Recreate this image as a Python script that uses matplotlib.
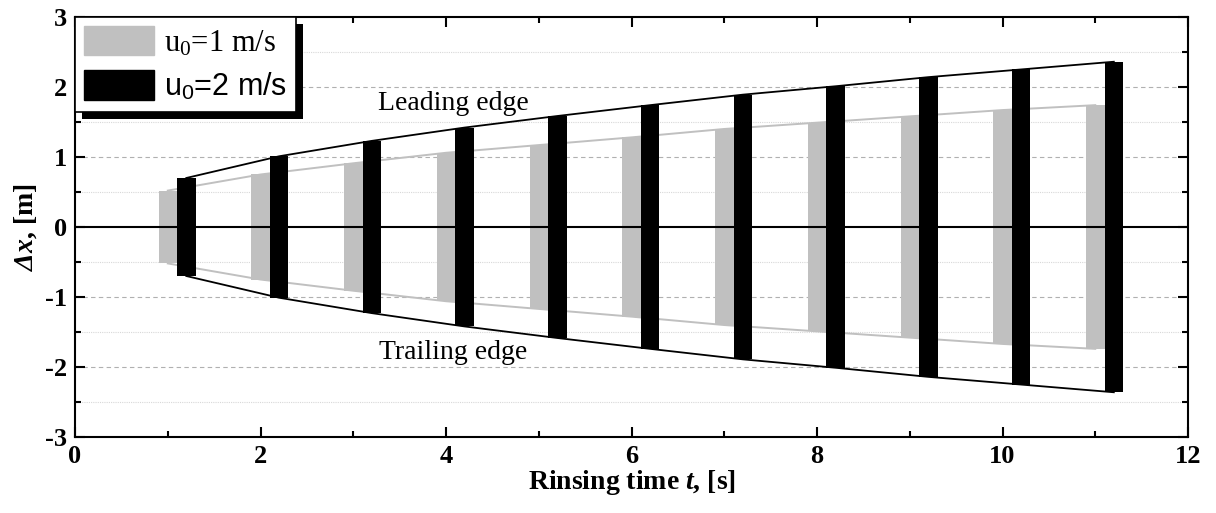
import numpy as np
import matplotlib.pyplot as plt
from matplotlib.patches import Rectangle, Patch
from matplotlib.ticker import MultipleLocator

plt.rcParams['font.family'] = ['Liberation Serif', 'DejaVu Serif']
plt.rcParams['axes.unicode_minus'] = False
plt.rcParams['mathtext.fontset'] = 'custom'
plt.rcParams['mathtext.rm'] = 'Liberation Serif'
plt.rcParams['mathtext.it'] = 'Liberation Serif:italic'
plt.rcParams['mathtext.bf'] = 'Liberation Serif:bold'
plt.rcParams['mathtext.bfit'] = 'Liberation Serif:bold:italic'
plt.rcParams['mathtext.sf'] = 'Liberation Sans'

# data
t_u1 = [1, 2, 3, 4, 5, 6, 7, 8, 9, 10, 11]
dx_u1 = [0.52, 0.75, 0.91, 1.06, 1.17, 1.28, 1.40, 1.49, 1.58, 1.67, 1.74]
t_u2 = [1.2, 2.2, 3.2, 4.2, 5.2, 6.2, 7.2, 8.2, 9.2, 10.2, 11.2]
dx_u2 = [0.70, 1.01, 1.23, 1.42, 1.585, 1.74, 1.89, 2.01, 2.14, 2.25, 2.36]

grey = '#c0c0c0'
dx1 = np.array(dx_u1)
dx2 = np.array(dx_u2)

fig = plt.figure(figsize=(12.16, 5.13), dpi=100)
ax = fig.add_axes([0.0617, 0.148, 0.9153, 0.819])

# grid
for y in [-2, -1, 1, 2]:
    ax.axhline(y, color='#b0b0b0', lw=0.8, ls=(0, (4, 3)), zorder=0)
for y in [-2.5, -1.5, -0.5, 0.5, 1.5, 2.5]:
    ax.axhline(y, color='#d8d8d8', lw=0.8, ls=(0, (1, 1)), zorder=0)

ax.bar(t_u1, 2 * dx1, bottom=-dx1, width=0.2, color=grey, zorder=1)
ax.plot(t_u1, dx1, color=grey, lw=1.4, zorder=1.5)
ax.plot(t_u1, -dx1, color=grey, lw=1.4, zorder=1.5)
ax.axhline(0, color='k', lw=1.5, zorder=2)
ax.bar(t_u2, 2 * dx2, bottom=-dx2, width=0.2, color='k', zorder=3)
ax.plot(t_u2, dx2, color='k', lw=1.3, zorder=3)
ax.plot(t_u2, -dx2, color='k', lw=1.3, zorder=3)

ax.text(4.08, 1.77, 'Leading edge', ha='center', va='center', fontsize=20)
ax.text(4.08, -1.79, 'Trailing edge', ha='center', va='center', fontsize=20)

ax.set_xlim(0, 12)
ax.set_ylim(-3, 3)
ax.xaxis.set_major_locator(MultipleLocator(2))
ax.xaxis.set_minor_locator(MultipleLocator(1))
ax.yaxis.set_major_locator(MultipleLocator(1))
ax.yaxis.set_minor_locator(MultipleLocator(0.5))
ax.tick_params(which='both', direction='in', top=True, right=True, width=1.5)
ax.tick_params(which='major', length=7, labelsize=19, pad=6)
ax.tick_params(which='minor', length=4)
for lab in ax.get_xticklabels() + ax.get_yticklabels():
    lab.set_fontweight('bold')
for s in ax.spines.values():
    s.set_linewidth(1.5)

ax.set_xlabel(r'Rinsing time $\mathbfit{t}$, [s]', fontsize=20, fontweight='bold', labelpad=0)
ax.set_ylabel(r'$\mathbfit{\Delta x}$, [m]', fontsize=20, fontweight='bold', labelpad=4)

handles = [Patch(color=grey), Patch(color='k')]
leg = ax.legend(handles, [r'u$_0$=1 m/s', r'u$_\mathsf{0}$=2 m/s'], loc='upper left',
                fontsize=22, frameon=True, fancybox=False, edgecolor='k',
                handlelength=2.3, handleheight=1.1, borderaxespad=0,
                borderpad=0.3, labelspacing=0.4, handletextpad=0.3)
leg.get_frame().set_linewidth(1.2)
leg.get_frame().set_alpha(1)
leg.get_texts()[1].set_fontfamily('Liberation Sans')
leg.set_zorder(10)

fig.canvas.draw()
bb = leg.get_window_extent()
shadow = Rectangle((bb.x0 + 7, bb.y0 - 7), bb.width, bb.height, transform=None,
                   facecolor='k', edgecolor='none', zorder=9)
fig.add_artist(shadow)
leg.remove()
fig.add_artist(leg)

fig.savefig('out.png', dpi=100)
